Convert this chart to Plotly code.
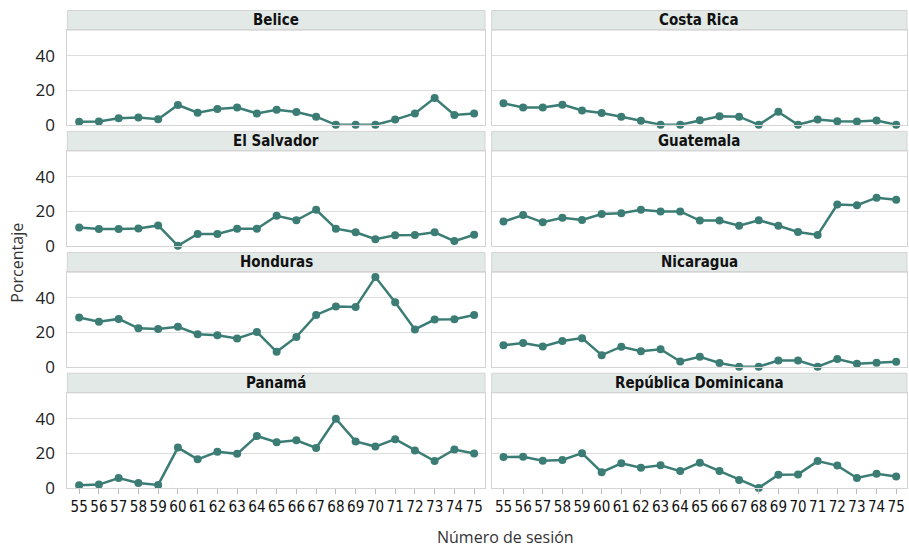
import plotly.graph_objects as go

sesiones = list(range(55, 76))
paises = ["Belice", "Costa Rica", "El Salvador", "Guatemala",
          "Honduras", "Nicaragua", "Panamá", "República Dominicana"]

belice = [1.7, 1.9, 3.8, 4.3, 3.2, 11.5, 7.0, 9.2, 10.0, 6.6, 8.7, 7.4, 4.7, 0, 0, 0, 3.0, 6.6, 15.5, 5.7, 6.6]
costa_rica = [12.5, 10.0, 10.0, 11.7, 8.3, 6.8, 4.7, 2.3, 0, 0, 2.6, 4.9, 4.7, 0, 7.5, 0, 3.0, 2.1, 1.9, 2.5, 0]
el_salvador = [10.6, 9.7, 9.7, 10.0, 11.8, 0, 6.8, 6.8, 9.9, 9.9, 17.4, 14.8, 20.9, 9.9, 7.8, 3.8, 6.1, 6.3, 7.8, 2.7, 6.4]
guatemala = [14.0, 17.8, 13.6, 16.3, 15.0, 18.4, 18.8, 20.9, 19.9, 19.9, 14.6, 14.6, 11.6, 14.8, 11.6, 8.0, 6.3, 23.9, 23.5, 27.9, 26.7]
honduras = [28.6, 26.1, 27.8, 22.3, 21.9, 23.2, 18.9, 18.3, 16.4, 20.2, 8.6, 17.3, 30.1, 35.0, 34.7, 52.2, 37.5, 21.7, 27.4, 27.6, 30.1]
nicaragua = [12.4, 13.7, 11.8, 14.9, 16.6, 6.7, 11.6, 9.0, 10.1, 3.0, 5.7, 2.1, 0, 0, 3.6, 3.6, 0, 4.4, 1.7, 2.3, 2.9]
panama = [1.5, 1.9, 5.7, 2.8, 1.7, 23.3, 16.5, 20.9, 19.7, 30.0, 26.4, 27.5, 23.1, 40.0, 26.9, 23.9, 28.2, 21.6, 15.5, 22.2, 19.9]
rep_dominicana = [17.8, 18.0, 15.7, 16.1, 20.1, 9.1, 14.2, 11.6, 13.1, 9.7, 14.6, 9.7, 4.5, 0, 7.6, 7.8, 15.5, 12.9, 5.7, 8.2, 6.6]

series = [belice, costa_rica, el_salvador, guatemala, honduras, nicaragua, panama, rep_dominicana]
y_ticks = [0, 20, 40]

W, H = 909, 558
LINE = "#3b7d75"
BORDER = "#d4d4d4"
STRIP = "#e2e9e7"
COND = "DejaVu Sans Condensed, Roboto Condensed, Roboto"

x_dom_px = [(67.3, 485.0), (491.7, 907.0)]
row_px = [(30.7, 127.3), (154.0, 250.7), (277.7, 374.0), (400.7, 497.7)]
STRIP_H = 20

fig = go.Figure()
shapes, annotations = [], []

for i, (name, vals) in enumerate(zip(paises, series)):
    r, c = divmod(i, 2)
    ax = "" if i == 0 else str(i + 1)
    fig.add_trace(go.Scatter(
        x=sesiones, y=vals, mode="lines+markers",
        line=dict(color=LINE, width=2.5),
        marker=dict(color=LINE, size=8),
        cliponaxis=False, showlegend=False,
        xaxis="x" + ax, yaxis="y" + ax,
    ))
    x0, x1 = x_dom_px[c]
    top, bot = row_px[r]
    xd = [x0 / W, x1 / W]
    yd = [1 - bot / H, 1 - top / H]
    bottom_row = (r == 3)
    fig.layout["xaxis" + ax] = dict(
        domain=xd, anchor="y" + ax, range=[54.4, 75.55],
        tickvals=sesiones, ticktext=[str(s) for s in sesiones],
        showticklabels=bottom_row,
        ticks="outside" if bottom_row else "", ticklen=5, tickcolor="#bbbbbb",
        showgrid=False, zeroline=False,
        showline=True, mirror=True, linecolor=BORDER, linewidth=1,
        tickfont=dict(family=COND, size=15, color="#111111"),
        fixedrange=True,
    )
    fig.layout["yaxis" + ax] = dict(
        domain=yd, anchor="x" + ax, range=[0, 55],
        tickvals=y_ticks, showticklabels=(c == 0),
        ticks="", ticklabelstandoff=8,
        showgrid=True, gridcolor="#dcdcdc", gridwidth=1, zeroline=False,
        showline=True, mirror=True, linecolor=BORDER, linewidth=1,
        tickfont=dict(family="Open Sans", size=17, color="#222222"),
        fixedrange=True,
    )
    s_top = top - STRIP_H
    shapes.append(dict(type="rect", xref="paper", yref="paper",
                       x0=xd[0], x1=xd[1], y0=1 - top / H, y1=1 - s_top / H,
                       fillcolor=STRIP, line=dict(color=BORDER, width=1), layer="below"))
    annotations.append(dict(text="<b>" + name + "</b>", xref="paper", yref="paper",
                            x=(xd[0] + xd[1]) / 2, y=1 - (top - STRIP_H / 2) / H,
                            xanchor="center", yanchor="middle", showarrow=False,
                            font=dict(family=COND, size=15, color="#111111")))

annotations.append(dict(text="Porcentaje", xref="paper", yref="paper",
                        x=17 / W, y=1 - 268 / H, textangle=-90, showarrow=False,
                        xanchor="center", yanchor="middle",
                        font=dict(family="Open Sans", size=16, color="#333333")))
annotations.append(dict(text="Número de sesión", xref="paper", yref="paper",
                        x=505 / W, y=1 - 548 / H, showarrow=False,
                        xanchor="center", yanchor="middle",
                        font=dict(family="Open Sans", size=16, color="#333333")))

fig.update_layout(
    width=W, height=H, margin=dict(l=0, r=0, t=0, b=0),
    paper_bgcolor="white", plot_bgcolor="white",
    shapes=shapes, annotations=annotations,
)

post = (
    "var de=document.documentElement, b=document.body;"
    "de.style.margin='0';de.style.padding='0';de.style.height='558px';de.style.overflow='hidden';"
    "b.style.margin='0';b.style.padding='0';b.style.height='558px';b.style.overflow='hidden';"
    "var g=document.getElementsByClassName('plotly-graph-div')[0];"
    "if(g){var p=g.parentElement;p.style.height='558px';p.style.overflow='hidden';p.style.margin='0';}"
)

fig.write_html("out.html", config={"displayModeBar": False}, post_script=post)
